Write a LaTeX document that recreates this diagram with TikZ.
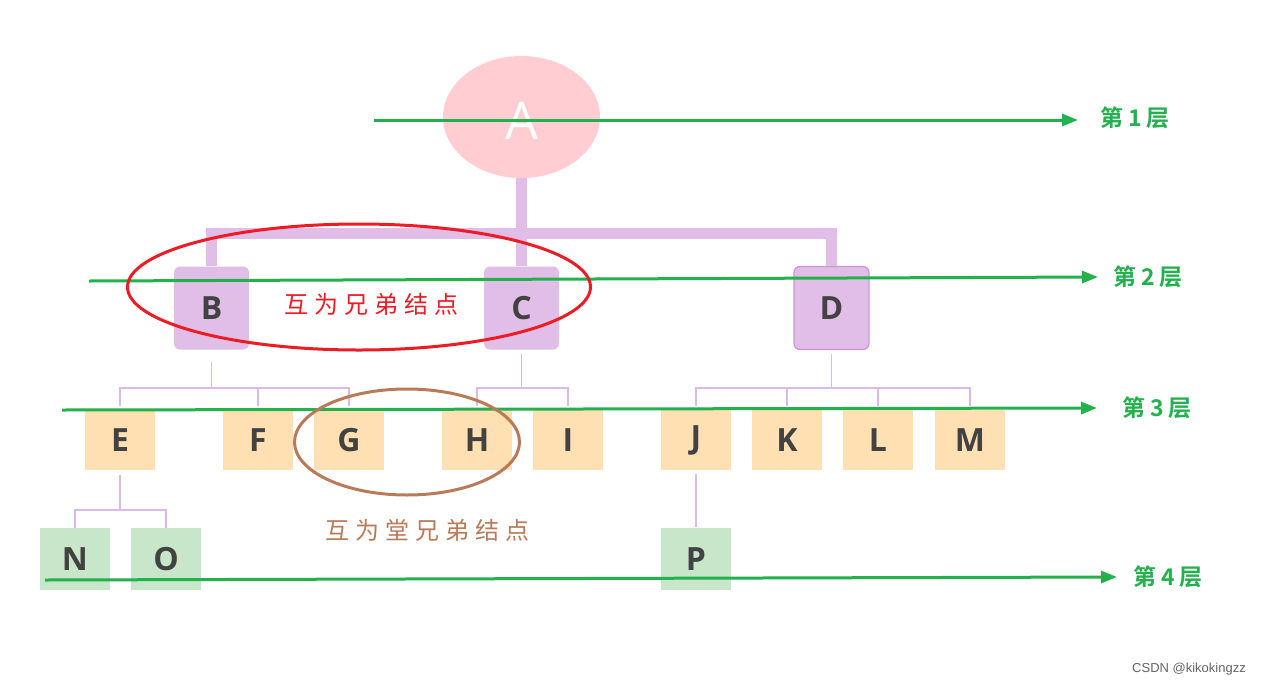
\documentclass[tikz,border=0pt]{standalone}
\usepackage{fontspec}
\usetikzlibrary{shapes.geometric,arrows.meta}
\newfontfamily\latinsf{Open Sans}
\newfontfamily\wmfont{Liberation Sans}
\newfontfamily\cjkls[LetterSpace=25]{Noto Sans CJK SC}
\newfontfamily\cjklsb[LetterSpace=22]{Noto Sans CJK SC Bold}
\definecolor{apink}{HTML}{FFCDD2}
\definecolor{boxpurple}{HTML}{E1BEE7}
\definecolor{boxpurpleedge}{HTML}{CE93D8}
\definecolor{boxorange}{HTML}{FFE0B2}
\definecolor{boxgreen}{HTML}{C8E6C9}
\definecolor{lettergray}{HTML}{424242}
\definecolor{thinpurple}{HTML}{DDB8EA}
\definecolor{layergreen}{HTML}{22B14C}
\definecolor{sibred}{HTML}{ED1C24}
\definecolor{cousinbrown}{HTML}{B97A57}
\tikzset{
  letterfont/.style={font=\latinsf\bfseries\fontsize{32}{32}\selectfont, text=lettergray},
  purplebox/.style={rectangle, rounded corners=6pt, fill=boxpurple, minimum width=75pt, minimum height=83pt, inner sep=0pt, letterfont},
  orangebox/.style={rectangle, fill=boxorange, minimum width=70pt, minimum height=60pt, inner sep=0pt, letterfont},
  greenbox/.style={rectangle, fill=boxgreen, minimum width=70pt, minimum height=62pt, inner sep=0pt, letterfont},
  thickconn/.style={draw=boxpurple, line width=11pt},
  thinconn/.style={draw=thinpurple, line width=1.5pt},
  layerarrow/.style={draw=layergreen, line width=3pt, -{Triangle[length=16pt,width=12pt]}},
  layerlabel/.style={font=\cjklsb\fontsize{23}{23}\selectfont, text=layergreen, inner sep=0pt},
  ringlabel/.style={font=\cjkls\fontsize{24}{24}\selectfont, inner sep=0pt},
}
\begin{document}
\begin{tikzpicture}[x=1pt,y=-1pt]
\useasboundingbox (0,0) rectangle (1270,689);
\fill[white] (0,0) rectangle (1270,689);
% root
\node[ellipse, fill=apink, minimum width=157pt, minimum height=122pt, inner sep=0pt] (A) at (521.5,117) {};
\node[font=\latinsf\fontsize{52}{52}\selectfont, text=white, inner sep=0pt] (Atext) at (521.5,121) {A};
% level 2
\node[purplebox] (B) at (211.5,308) {B};
\node[purplebox] (C) at (521.5,308) {C};
\node[purplebox, draw=boxpurpleedge, line width=1.2pt] (D) at (831.5,308) {D};
% level 3
\node[orangebox] (E) at (120,440) {E};
\node[orangebox] (F) at (258,440) {F};
\node[orangebox] (G) at (349,440) {G};
\node[orangebox] (H) at (477,440) {H};
\node[orangebox] (I) at (568,440) {I};
\node[orangebox] (J) at (696,440) {J};
\node[orangebox] (K) at (787,440) {K};
\node[orangebox] (L) at (878,440) {L};
\node[orangebox] (M) at (970,440) {M};
% level 4
\node[greenbox] (N) at (75,559) {N};
\node[greenbox] (O) at (166,559) {O};
\node[greenbox] (P) at (696,559) {P};
% thick connectors
\coordinate (barA) at (521.5,233);
\draw[thickconn] (A.south) -- (C.north);
\draw[thickconn] (barA) -| (B.north);
\draw[thickconn] (barA) -| (D.north);
% thin connectors
\coordinate (bB) at (211.5,388);
\coordinate (bC) at (521.5,388);
\coordinate (bD) at (831.5,388);
\coordinate (bE) at (120,510);
\draw[thinconn] ([yshift=-12pt]B.south) -- (bB);
\draw[thinconn] ([yshift=4pt]E.north) |- (bB) -| ([yshift=4pt]G.north);
\draw[thinconn] ([yshift=4pt]F.north) -- (bB -| F.north);
\draw[thinconn] ([yshift=-4pt]C.south) -- (bC);
\draw[thinconn] ([yshift=4pt]H.north) |- (bC) -| ([yshift=4pt]I.north);
\draw[thinconn] ([yshift=-4pt]D.south) -- (bD);
\draw[thinconn] ([yshift=4pt]J.north) |- (bD) -| ([yshift=4pt]M.north);
\draw[thinconn] ([yshift=4pt]K.north) -- (bD -| K.north);
\draw[thinconn] ([yshift=4pt]L.north) -- (bD -| L.north);
\draw[thinconn] ([yshift=-5pt]E.south) -- (bE);
\draw[thinconn] (N.north) |- (bE) -| (O.north);
\draw[thinconn] ([yshift=-4pt]J.south) -- ([yshift=1pt]P.north);
% layer labels and arrows
\node[layerlabel] (L1) at (1135,118) {第1层};
\node[layerlabel] (L2) at (1148,277) {第2层};
\node[layerlabel] (L3) at (1157,408) {第3层};
\node[layerlabel] (L4) at (1168,577) {第4层};
\coordinate (g1s) at (374,120);
\coordinate (g1e) at (1078,120);
\coordinate (g2s) at (89,281);
\coordinate (g2e) at (1098,277);
\coordinate (g3s) at (62,410);
\coordinate (g3e) at (1097,408);
\coordinate (g4s) at (45,580);
\coordinate (g4e) at (1117,577);
\draw[layerarrow] (g1s) -- (g1e);
\draw[layerarrow] (g2s) -- (g2e);
\draw[layerarrow] (g3s) -- (g3e);
\draw[layerarrow] (g4s) -- (g4e);
% sibling rings
\node[ellipse, draw=sibred, line width=3pt, minimum width=463pt, minimum height=126pt, inner sep=0pt] (sib) at (359,287) {};
\node[ringlabel, text=sibred] (sibt) at (371,304) {互为兄弟结点};
\node[ellipse, draw=cousinbrown, line width=3pt, minimum width=225pt, minimum height=106pt, inner sep=0pt] (cous) at (407,442) {};
\node[ringlabel, text=cousinbrown] (coust) at (427,530) {互为堂兄弟结点};
% watermark
\node[font=\wmfont\fontsize{13}{13}\selectfont, text=black!60, inner sep=0pt] (wm) at (1189,669) {CSDN @kikokingzz};
\end{tikzpicture}
\end{document}
